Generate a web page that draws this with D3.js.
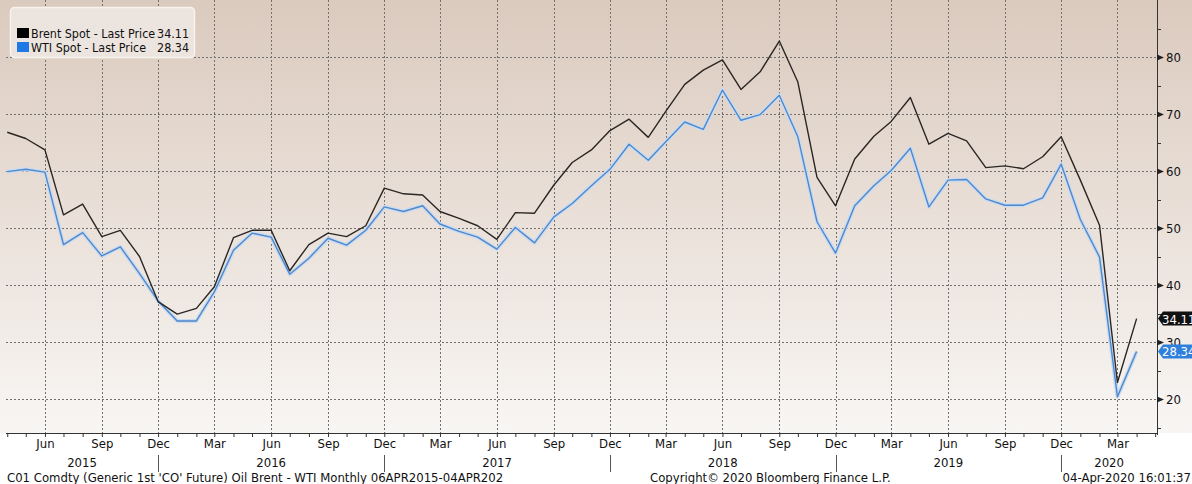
<!DOCTYPE html>
<html><head><meta charset="utf-8">
<script src="https://cdn.jsdelivr.net/npm/d3@7"></script>
<style>
html,body{margin:0;padding:0;background:#fff;}
svg{display:block;}
text{font-family:"DejaVu Sans Condensed","DejaVu Sans",sans-serif;}
</style></head>
<body>
<svg id="chart" width="1192" height="484"></svg>
<script>
// ---- data ----
const months = [
"2015-04","2015-05","2015-06","2015-07","2015-08","2015-09","2015-10","2015-11","2015-12",
"2016-01","2016-02","2016-03","2016-04","2016-05","2016-06","2016-07","2016-08","2016-09","2016-10","2016-11","2016-12",
"2017-01","2017-02","2017-03","2017-04","2017-05","2017-06","2017-07","2017-08","2017-09","2017-10","2017-11","2017-12",
"2018-01","2018-02","2018-03","2018-04","2018-05","2018-06","2018-07","2018-08","2018-09","2018-10","2018-11","2018-12",
"2019-01","2019-02","2019-03","2019-04","2019-05","2019-06","2019-07","2019-08","2019-09","2019-10","2019-11","2019-12",
"2020-01","2020-02","2020-03","2020-04"];
const brent = [
66.8,65.7,63.7,52.3,54.2,48.5,49.6,45.0,37.1,
34.9,35.9,39.7,48.3,49.6,49.6,42.5,47.1,49.1,48.5,50.4,57.0,
56.0,55.8,52.9,51.7,50.4,48.0,52.7,52.6,57.5,61.5,63.7,67.1,
69.1,65.9,70.4,75.2,77.7,79.5,74.3,77.4,82.8,75.6,58.9,53.9,
62.1,66.1,68.7,72.9,64.7,66.6,65.3,60.6,60.9,60.4,62.5,66.0,
58.4,50.5,22.9,34.11];
const wti = [
59.9,60.3,59.8,47.1,49.2,45.1,46.7,42.0,37.2,
33.7,33.7,38.8,46.1,49.1,48.4,41.9,44.7,48.2,47.0,49.6,53.7,
52.9,53.9,50.7,49.4,48.4,46.3,50.1,47.4,51.9,54.3,57.4,60.3,
64.7,61.9,65.1,68.6,67.3,74.2,68.9,69.9,73.3,66.0,51.1,45.6,
53.9,57.4,60.1,64.0,53.7,58.4,58.5,55.1,54.0,54.0,55.3,61.2,
51.5,44.9,20.4,28.34];
const seriesNames = ["Brent Spot - Last Price","WTI Spot - Last Price"];
const lastValues = ["34.11","28.34"];
const yMajor = [20,30,40,50,60,70,80];
const yMinor = [15,25,35,45,55,65,75,85];
const years = [2015,2016,2017,2018,2019,2020];
const footerLeft = "C01 Comdty (Generic 1st 'CO' Future) Oil Brent - WTI  Monthly 06APR2015-04APR202";
const footerMid = "Copyright\u00A9 2020 Bloomberg Finance L.P.";
const footerRight = "04-Apr-2020 16:01:37";

// ---- layout ----
const W = 1192, H = 484;
const L = 6, R = 1157, T = 0, B = 433;
const svg = d3.select("#chart");
const parse = d3.timeParse("%Y-%m");
const dates = months.map(parse);

const x = d3.scaleTime().domain([new Date(2015,2,30), new Date(2020,4,4)]).range([L, R]);
const y = d3.scaleLinear().domain([14.04, 90]).range([B, T]);

// background gradient
const defs = svg.append("defs");
const g = defs.append("linearGradient").attr("id","bg").attr("x1",0).attr("y1",0).attr("x2",0).attr("y2",1);
g.append("stop").attr("offset","0%").attr("stop-color","#dbcabe");
g.append("stop").attr("offset","55%").attr("stop-color","#ebe2db");
g.append("stop").attr("offset","100%").attr("stop-color","#f8f6f4");
svg.append("rect").attr("x",0).attr("y",0).attr("width",W).attr("height",B).attr("fill","url(#bg)");

// grid
const qTicks = d3.timeMonth.range(new Date(2015,3,1), new Date(2020,4,2)).filter(d => d.getMonth() % 3 === 2);
const grid = svg.append("g").attr("stroke","#707070").attr("stroke-width",1).attr("stroke-dasharray","2,2");
grid.selectAll("line.h").data(yMajor).join("line")
  .attr("x1",L).attr("x2",R).attr("y1",d=>Math.round(y(d))+0.5).attr("y2",d=>Math.round(y(d))+0.5);
grid.selectAll("line.v").data(qTicks).join("line")
  .attr("x1",d=>Math.round(x(d))+0.5).attr("x2",d=>Math.round(x(d))+0.5).attr("y1",T).attr("y2",B);

// lines
const line = vals => d3.line().x((d,i)=>x(dates[i])).y(d=>y(d))(vals);
svg.append("path").attr("d",line(wti)).attr("fill","none").attr("stroke","#c9dbf0").attr("stroke-width",4).attr("stroke-linejoin","round");
svg.append("path").attr("d",line(wti)).attr("fill","none").attr("stroke","#4f88cc").attr("stroke-width",1.4).attr("stroke-linejoin","round");
svg.append("path").attr("d",line(brent)).attr("fill","none").attr("stroke","#2a2624").attr("stroke-width",1.4).attr("stroke-linejoin","round");

// bottom axis
const xa = svg.append("g").attr("transform",`translate(0,${B})`);
xa.call(d3.axisBottom(x).tickValues(d3.timeMonth.range(new Date(2015,3,1), new Date(2020,4,2))).tickSize(4).tickFormat(""));
xa.select(".domain").attr("stroke","#333").attr("d",`M${L},0.5H${R}`);
xa.selectAll(".tick line").attr("stroke","#333");
const xl = svg.append("g").attr("transform",`translate(0,${B})`);
xl.call(d3.axisBottom(x).tickValues(qTicks).tickSize(0).tickPadding(6).tickFormat(d3.timeFormat("%b")));
xl.select(".domain").remove();
xl.selectAll("text").attr("font-size",13).attr("fill","#111").attr("font-family",'"DejaVu Sans Condensed",sans-serif');

// year labels and separators
const decs = qTicks.filter(d => d.getMonth() === 11);
svg.selectAll("line.sep").data(decs).join("line")
  .attr("x1",d=>Math.round(x(d))+0.5).attr("x2",d=>Math.round(x(d))+0.5).attr("y1",455).attr("y2",472)
  .attr("stroke","#555").attr("stroke-width",1);
svg.selectAll("text.yr").data(years).join("text")
  .attr("x", yr => {
    const a = Math.max(L, x(new Date(yr-1,11,1)));
    const b = Math.min(R, x(new Date(yr,11,1)));
    return (a+b)/2;
  })
  .attr("y",467).attr("text-anchor","middle").attr("font-size",13).attr("fill","#111").text(d=>d);

// right axis
svg.append("line").attr("x1",R+0.5).attr("x2",R+0.5).attr("y1",0).attr("y2",B+2).attr("stroke","#333");
const ya = svg.append("g").attr("transform",`translate(${R},0)`);
ya.call(d3.axisRight(y).tickValues(yMajor).tickSize(0).tickPadding(9));
ya.select(".domain").remove();
ya.selectAll("text").attr("font-size",13).attr("fill","#111").attr("font-family",'"DejaVu Sans Condensed",sans-serif');
ya.selectAll(".tick").append("path").attr("d","M0,-3L7,0L0,3Z").attr("fill","#222");
svg.append("g").selectAll("line").data(yMinor).join("line")
  .attr("x1",R).attr("x2",R+4).attr("y1",d=>Math.round(y(d))+0.5).attr("y2",d=>Math.round(y(d))+0.5).attr("stroke","#333");

// last value tags
const tags = [{v: brent[brent.length-1], t: lastValues[0], c: "#111111"}, {v: wti[wti.length-1], t: lastValues[1], c: "#2f80dc"}];
tags.forEach(tg => {
  const yy = y(tg.v);
  svg.append("path").attr("d",`M${R+1},${yy}L${R+6},${yy-7}H${W+5}V${yy+7}H${R+6}Z`).attr("fill",tg.c);
  svg.append("text").attr("x",R+5).attr("y",yy+5).attr("font-size",13).attr("fill","#fff").text(tg.t);
});

// legend
const lg = svg.append("g");
lg.append("rect").attr("x",10.5).attr("y",7.5).attr("width",184).attr("height",50).attr("rx",4)
  .attr("fill","#ece4de").attr("stroke","#f7f3ef").attr("stroke-width",1.5);
const lcol = ["#000000","#1e78e6"];
seriesNames.forEach((n,i) => {
  const yy = 33 + i*14;
  lg.append("rect").attr("x",17).attr("y",yy-5).attr("width",12).attr("height",10).attr("fill",lcol[i]);
  lg.append("text").attr("x",31).attr("y",yy+5).attr("font-size",12.4).attr("fill","#111").text(n);
  lg.append("text").attr("x",189).attr("y",yy+5).attr("text-anchor","end").attr("font-size",12.4).attr("fill","#111").text(lastValues[i]);
});

// footer
svg.append("text").attr("x",7).attr("y",482).attr("font-size",13).attr("fill","#111").text(footerLeft);
svg.append("text").attr("x",650).attr("y",482).attr("font-size",13).attr("fill","#111").text(footerMid);
svg.append("text").attr("x",1191).attr("y",482).attr("text-anchor","end").attr("font-size",13).attr("fill","#111").text(footerRight);
</script>
</body></html>
